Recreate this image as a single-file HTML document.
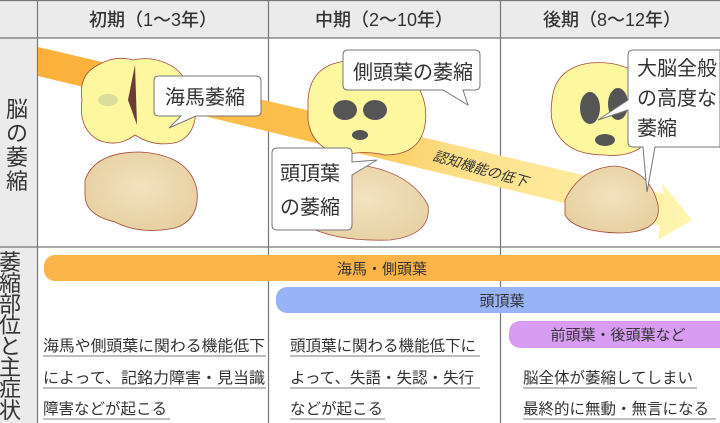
<!DOCTYPE html>
<html><head><meta charset="utf-8"><style>
body{margin:0;width:720px;height:423px;overflow:hidden;background:#fff;font-family:"Liberation Sans","Noto Sans CJK JP",sans-serif;}
svg{display:block}
text{font-family:"Liberation Sans","Noto Sans CJK JP",sans-serif;fill:#333}
</style></head><body>
<svg width="720" height="423" viewBox="0 0 720 423">
<defs>
<linearGradient id="ag" x1="0" y1="0" x2="1" y2="0">
<stop offset="0" stop-color="#fbb03b"/><stop offset="0.45" stop-color="#fcc24e"/><stop offset="0.65" stop-color="#fde08a"/><stop offset="1" stop-color="#fff6b0"/></linearGradient>
<radialGradient id="br" cx="0.5" cy="0.45" r="0.6"><stop offset="0" stop-color="#f3e2bf"/><stop offset="1" stop-color="#e6cf9f"/></radialGradient>
</defs>
<rect x="0" y="0" width="720" height="38" fill="#ebebeb"/>
<rect x="0" y="38" width="37" height="385" fill="#ebebeb"/>
<g stroke="#777" stroke-width="1.2">
<line x1="0" y1="0.5" x2="720" y2="0.5"/>
<line x1="0" y1="38" x2="720" y2="38"/>
<line x1="0" y1="247" x2="720" y2="247"/>
<line x1="37.5" y1="0" x2="37.5" y2="423"/>
<line x1="268.5" y1="0" x2="268.5" y2="423"/>
<line x1="500.5" y1="0" x2="500.5" y2="423"/>
</g>
<g font-size="18" text-anchor="middle" style="font-weight:500">
<text x="153" y="26">初期（1～3年）</text>
<text x="384" y="26">中期（2～10年）</text>
<text x="612" y="26">後期（8～12年）</text>
</g>
<g font-size="22" text-anchor="middle">
<text x="17" y="117">脳</text><text x="17" y="141">の</text><text x="17" y="165">萎</text><text x="17" y="189">縮</text>
</g>
<g font-size="22" text-anchor="middle">
<text x="10" y="270">萎</text><text x="10" y="291">縮</text><text x="10" y="312">部</text><text x="10" y="333">位</text><text x="10" y="354">と</text><text x="10" y="375">主</text><text x="10" y="396">症</text><text x="10" y="418">状</text>
</g>
<polygon points="38,47 664,194 662,183 692,220 658,240 660,226 38,76" fill="url(#ag)"/>
<text x="0" y="0" font-size="14" transform="translate(432,160) rotate(16)" font-style="italic">認知機能の低下</text>
<g stroke="#a34a3a" stroke-width="0.8">
<path d="M85,180 Q95,152 140,152 Q190,155 197,190 Q200,220 175,228 Q140,235 115,222 Q85,215 85,195 Z" fill="url(#br)"/>
<path d="M82,100 Q78,75 98,65 Q115,55 133,60 Q155,55 175,68 Q195,85 196,110 Q195,135 178,142 Q155,148 135,135 Q118,148 98,140 Q78,128 82,100 Z" fill="#fdf7a0"/>
<path d="M300,190 Q315,162 360,165 Q410,172 428,205 Q432,235 390,240 Q335,242 305,225 Z" fill="url(#br)" opacity="0.95"/>
<path d="M308,100 Q310,68 340,62 Q375,55 405,70 Q430,95 425,125 Q420,155 385,155 Q365,150 345,155 Q312,150 308,120 Z" fill="#fdf7a0"/>
<path d="M565,200 Q580,168 615,166 Q650,170 658,205 Q662,232 620,233 Q575,232 565,215 Z" fill="url(#br)"/>
<path d="M552,100 Q555,68 590,63 Q625,60 645,80 Q660,110 648,140 Q635,158 605,155 Q575,155 562,140 Q548,125 552,100 Z" fill="#fdf7a0"/>
</g>
<g fill="#555">
<path d="M135,65 L137,125 L128,100 Z" fill="#6b3b3b"/>
<ellipse cx="108" cy="100" rx="10" ry="6" fill="#d9dc9a"/><ellipse cx="165" cy="100" rx="10" ry="6" fill="#d9dc9a"/>
<ellipse cx="345" cy="110" rx="12" ry="10"/><ellipse cx="375" cy="110" rx="12" ry="10"/><ellipse cx="360" cy="135" rx="8" ry="5"/>
<ellipse cx="590" cy="108" rx="10" ry="16"/><ellipse cx="618" cy="104" rx="10" ry="16"/><ellipse cx="605" cy="140" rx="10" ry="6"/></g>
<g fill="#fff" stroke="#777" stroke-width="1">
<path d="M159,76 h97 q5,0 5,5 v30 q0,5 -5,5 h-60 l-27,12 l12,-12 h-22 q-5,0 -5,-5 v-30 q0,-5 5,-5 z"/>
<path d="M348,50 h127 q5,0 5,5 v30 q0,5 -5,5 h-12 l5,15 l-25,-15 h-95 q-5,0 -5,-5 v-30 q0,-5 5,-5 z"/>
<path d="M277,148 h70 q5,0 5,5 v9 l25,-2 l-25,15 v50 q0,5 -5,5 h-70 q-5,0 -5,-5 v-72 q0,-5 5,-5 z"/>
<path d="M633,50 h87 v97 h-65 l-8,45 l-4,-45 h-10 q-5,0 -5,-5 v-32 l-30,10 l30,-20 v-45 q0,-5 5,-5 z"/>
</g>
<g font-size="20">
<text x="165" y="104">海馬萎縮</text>
<text x="353" y="79">側頭葉の萎縮</text>
<text x="280" y="180">頭頂葉</text><text x="280" y="214">の萎縮</text>
<text x="637" y="75">大脳全般</text><text x="637" y="105">の高度な</text><text x="637" y="135">萎縮</text>
</g>
<rect x="44" y="255" width="690" height="26" rx="11" fill="#fbb448"/>
<rect x="276" y="287" width="460" height="26" rx="11" fill="#99b3f7"/>
<rect x="509" y="321" width="230" height="27" rx="11" fill="#d89cf3"/>
<g font-size="15" text-anchor="middle"><text x="382" y="274">海馬・側頭葉</text><text x="502" y="306">頭頂葉</text><text x="618" y="340">前頭葉・後頭葉など</text></g>
<g font-size="15.5">
<text x="43" y="351" textLength="222" lengthAdjust="spacingAndGlyphs">海馬や側頭葉に関わる機能低下</text>
<text x="43" y="383" textLength="222" lengthAdjust="spacingAndGlyphs">によって、記銘力障害・見当識</text>
<text x="43" y="414">障害などが起こる</text>
<text x="290" y="351">頭頂葉に関わる機能低下に</text>
<text x="290" y="383">よって、失語・失認・失行</text>
<text x="290" y="414">などが起こる</text>
<text x="523" y="383">脳全体が萎縮してしまい</text>
<text x="523" y="414">最終的に無動・無言になる</text>
</g>
<g stroke="#aaa" stroke-width="1.5">
<line x1="43" y1="356" x2="266" y2="356"/><line x1="43" y1="388" x2="266" y2="388"/><line x1="43" y1="419" x2="170" y2="419"/>
<line x1="290" y1="356" x2="480" y2="356"/><line x1="290" y1="388" x2="480" y2="388"/><line x1="290" y1="419" x2="385" y2="419"/>
<line x1="523" y1="388" x2="697" y2="388"/><line x1="523" y1="419" x2="716" y2="419"/>
</g>
</svg>
</body></html>
